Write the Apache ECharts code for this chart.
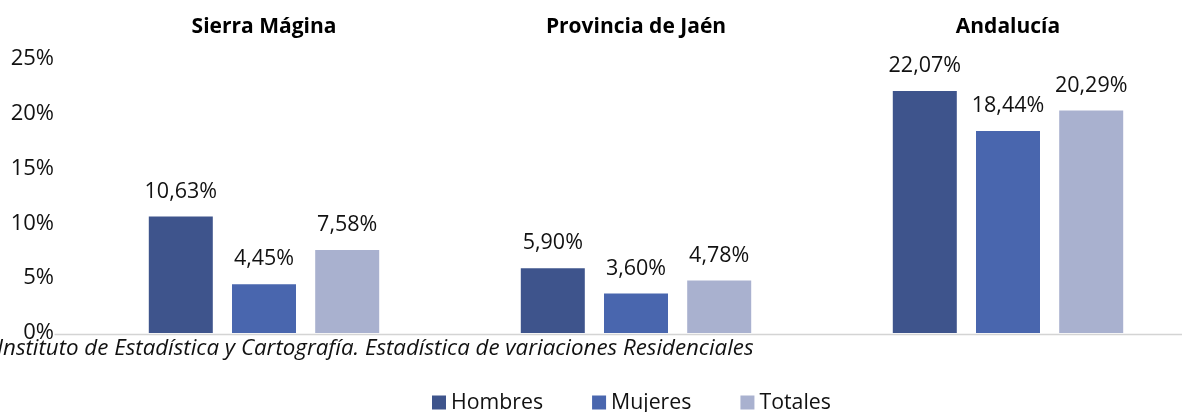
<!DOCTYPE html>
<html>
<head>
<meta charset="utf-8">
<script src="https://cdn.jsdelivr.net/npm/echarts@6/dist/echarts.min.js"></script>
<style>
  html, body { margin: 0; padding: 0; background: #fff; }
  #chart { width: 1182px; height: 412px; }
</style>
</head>
<body>
<div id="chart"></div>
<script>
// Regions compared
const regions = ['Sierra Mágina', 'Provincia de Jaén', 'Andalucía'];
// Percentages per region
const hombres = [10.63, 5.90, 22.07];
const mujeres = [4.45, 3.60, 18.44];
const totales = [7.58, 4.78, 20.29];
const seriesNames = ['Hombres', 'Mujeres', 'Totales'];
const colors = ['#3E548C', '#4966AE', '#A9B1CF'];
const sourceText = 'Instituto de Estadística y Cartografía. Estadística de variaciones Residenciales';

const FONT = '"Open Sans"';
const chart = echarts.init(document.getElementById('chart'));

const fmt = v => v.toFixed(2).replace('.', ',') + '%';

const mkSeries = (name, data, color) => ({
  name,
  type: 'bar',
  data,
  barWidth: 64,
  barGap: '30%',
  itemStyle: { color },
  label: {
    show: true,
    position: 'top',
    distance: 14,
    color: '#111',
    fontFamily: FONT,
    fontSize: 21.5,
    formatter: p => fmt(p.value)
  }
});

// Category ticks sit on the region centres (boundaryGap off), so the
// grid spans from the first group centre to the last one.
chart.setOption({
  animation: false,
  textStyle: { fontFamily: FONT },
  grid: { left: 264, width: 744, top: 59, bottom: 79, containLabel: false },
  legend: {
    top: 387,
    left: 427,
    itemWidth: 14,
    itemHeight: 14,
    itemGap: 49,
    icon: 'rect',
    textStyle: { fontFamily: FONT, fontSize: 21.3, color: '#111' },
    data: seriesNames
  },
  xAxis: [{
    type: 'category',
    data: regions,
    position: 'top',
    boundaryGap: false,
    axisLine: { show: false },
    axisTick: { show: false },
    axisLabel: { show: true, fontFamily: FONT, fontWeight: 'bold', fontSize: 21, color: '#000', margin: 21 }
  }],
  yAxis: {
    type: 'value',
    min: 0,
    max: 25,
    interval: 5,
    splitLine: { show: false },
    axisLine: { show: false },
    axisTick: { show: false },
    axisLabel: { fontFamily: FONT, fontSize: 22, color: '#111', margin: 210, formatter: v => v + '%' }
  },
  graphic: [
    { type: 'line', left: 52, top: 332, shape: { x1: 0, y1: 0, x2: 1130, y2: 0 }, style: { stroke: '#d4d4d4', lineWidth: 1.5 } },
    { type: 'text', left: -3, top: 338, style: { text: sourceText, fontFamily: FONT, fontStyle: 'italic', fontSize: 22.3, fill: '#111' } }
  ],
  series: [
    mkSeries(seriesNames[0], hombres, colors[0]),
    mkSeries(seriesNames[1], mujeres, colors[1]),
    mkSeries(seriesNames[2], totales, colors[2])
  ]
});
</script>
</body>
</html>
